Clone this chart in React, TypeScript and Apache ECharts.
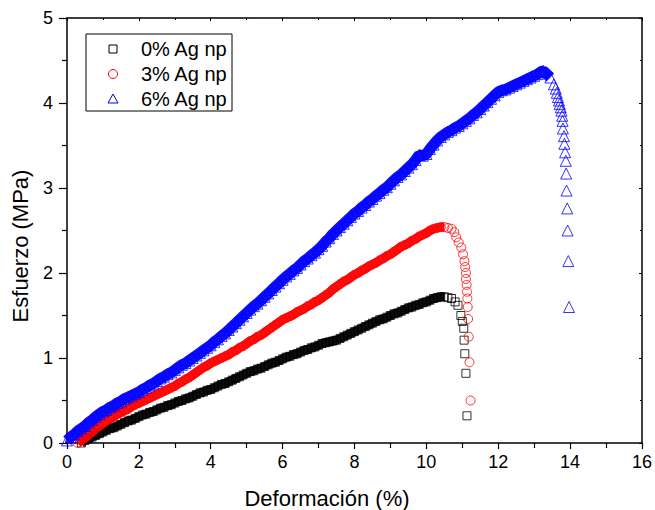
import React, { useEffect, useRef } from "react";
import * as echarts from "echarts";

const seriesNames = ["0% Ag np", "3% Ag np", "6% Ag np"];
const seriesColors = ["#000000", "#ff0000", "#0000ff"];

const xTicks = [0, 2, 4, 6, 8, 10, 12, 14, 16];
const yTicks = [0, 1, 2, 3, 4, 5];

// 0% Ag np  [deformación %, esfuerzo MPa]
const data0: [number, number][] = [
  [0.4, 0.0], [0.5, 0.03], [0.6, 0.05], [0.7, 0.07], [0.8, 0.09], [0.9, 0.11], [1.0, 0.13],
  [1.1, 0.15], [1.2, 0.17], [1.3, 0.18], [1.4, 0.2], [1.5, 0.22], [1.6, 0.24], [1.7, 0.26],
  [1.8, 0.27], [1.9, 0.29], [2.0, 0.31], [2.1, 0.33], [2.2, 0.34], [2.3, 0.36], [2.4, 0.37],
  [2.5, 0.39], [2.6, 0.41], [2.7, 0.42], [2.8, 0.44], [2.9, 0.45], [3.0, 0.47], [3.1, 0.49],
  [3.2, 0.5], [3.3, 0.52], [3.4, 0.53], [3.5, 0.55], [3.6, 0.57], [3.7, 0.59], [3.8, 0.6],
  [3.9, 0.62], [4.0, 0.63], [4.1, 0.65], [4.2, 0.67], [4.3, 0.69], [4.4, 0.7], [4.5, 0.72],
  [4.6, 0.74], [4.7, 0.76], [4.8, 0.78], [4.9, 0.8], [5.0, 0.82], [5.1, 0.84], [5.2, 0.85],
  [5.3, 0.87], [5.4, 0.88], [5.5, 0.9], [5.6, 0.92], [5.7, 0.94], [5.8, 0.95], [5.9, 0.97],
  [6.0, 0.99], [6.1, 1.01], [6.2, 1.02], [6.3, 1.04], [6.4, 1.05], [6.5, 1.07], [6.6, 1.09],
  [6.7, 1.1], [6.8, 1.12], [6.9, 1.13], [7.0, 1.15], [7.1, 1.17], [7.2, 1.18], [7.3, 1.19],
  [7.4, 1.2], [7.5, 1.21], [7.6, 1.23], [7.7, 1.25], [7.8, 1.27], [7.9, 1.29], [8.0, 1.31],
  [8.1, 1.33], [8.2, 1.35], [8.3, 1.37], [8.4, 1.39], [8.5, 1.41], [8.6, 1.43], [8.7, 1.45],
  [8.8, 1.46], [8.9, 1.48], [9.0, 1.5], [9.1, 1.52], [9.2, 1.53], [9.3, 1.55], [9.4, 1.57],
  [9.5, 1.59], [9.6, 1.6], [9.7, 1.62], [9.8, 1.63], [9.9, 1.65], [10.0, 1.66], [10.1, 1.68],
  [10.2, 1.7], [10.3, 1.71], [10.4, 1.72], [10.5, 1.72], [10.6, 1.71], [10.7, 1.7],
  [10.8, 1.66], [10.88, 1.62], [10.96, 1.5], [11.0, 1.43], [11.04, 1.35], [11.05, 1.21],
  [11.07, 1.05], [11.1, 0.82], [11.13, 0.32],
];

// 3% Ag np
const data3: [number, number][] = [
  [0.3, 0.0], [0.4, 0.03], [0.5, 0.06], [0.6, 0.1], [0.7, 0.13], [0.8, 0.17], [0.9, 0.2],
  [1.0, 0.23], [1.1, 0.26], [1.2, 0.29], [1.3, 0.31], [1.4, 0.34], [1.5, 0.36], [1.6, 0.38],
  [1.7, 0.4], [1.8, 0.43], [1.9, 0.45], [2.0, 0.47], [2.1, 0.49], [2.2, 0.51], [2.3, 0.53],
  [2.4, 0.55], [2.5, 0.57], [2.6, 0.59], [2.7, 0.61], [2.8, 0.63], [2.9, 0.65], [3.0, 0.67],
  [3.1, 0.7], [3.2, 0.72], [3.3, 0.75], [3.4, 0.77], [3.5, 0.8], [3.6, 0.83], [3.7, 0.86],
  [3.8, 0.89], [3.9, 0.91], [4.0, 0.94], [4.1, 0.96], [4.2, 0.98], [4.3, 1.0], [4.4, 1.02],
  [4.5, 1.04], [4.6, 1.07], [4.7, 1.09], [4.8, 1.12], [4.9, 1.14], [5.0, 1.17], [5.1, 1.2],
  [5.2, 1.22], [5.3, 1.25], [5.4, 1.27], [5.5, 1.3], [5.6, 1.33], [5.7, 1.36], [5.8, 1.39],
  [5.9, 1.42], [6.0, 1.45], [6.1, 1.47], [6.2, 1.49], [6.3, 1.51], [6.4, 1.54], [6.5, 1.56],
  [6.6, 1.58], [6.7, 1.61], [6.8, 1.63], [6.9, 1.66], [7.0, 1.68], [7.1, 1.71], [7.2, 1.74],
  [7.3, 1.77], [7.4, 1.81], [7.5, 1.84], [7.6, 1.87], [7.7, 1.9], [7.8, 1.92], [7.9, 1.95],
  [8.0, 1.98], [8.1, 2.0], [8.2, 2.03], [8.3, 2.05], [8.4, 2.08], [8.5, 2.1], [8.6, 2.12],
  [8.7, 2.15], [8.8, 2.17], [8.9, 2.2], [9.0, 2.22], [9.1, 2.25], [9.2, 2.28], [9.3, 2.31],
  [9.4, 2.33], [9.5, 2.35], [9.6, 2.38], [9.7, 2.4], [9.8, 2.43], [9.9, 2.45], [10.0, 2.47],
  [10.1, 2.5], [10.2, 2.52], [10.3, 2.53], [10.4, 2.54], [10.5, 2.54], [10.6, 2.53],
  [10.7, 2.52], [10.78, 2.48], [10.83, 2.42], [10.9, 2.36], [10.97, 2.3], [11.02, 2.22],
  [11.06, 2.14], [11.08, 2.07], [11.1, 2.0], [11.1, 1.93], [11.12, 1.86], [11.13, 1.78],
  [11.14, 1.7], [11.15, 1.6], [11.16, 1.46], [11.18, 1.25], [11.2, 0.95], [11.23, 0.5],
];

// 6% Ag np
const data6: [number, number][] = [
  [0.0, 0.03], [0.1, 0.07], [0.2, 0.1], [0.3, 0.14], [0.4, 0.17], [0.5, 0.2], [0.6, 0.24],
  [0.7, 0.27], [0.8, 0.31], [0.9, 0.34], [1.0, 0.37], [1.1, 0.39], [1.2, 0.42], [1.3, 0.44],
  [1.4, 0.47], [1.5, 0.49], [1.6, 0.52], [1.7, 0.54], [1.8, 0.56], [1.9, 0.58], [2.0, 0.6],
  [2.1, 0.63], [2.2, 0.65], [2.3, 0.68], [2.4, 0.7], [2.5, 0.73], [2.6, 0.76], [2.7, 0.78],
  [2.8, 0.81], [2.9, 0.83], [3.0, 0.86], [3.1, 0.89], [3.2, 0.92], [3.3, 0.94], [3.4, 0.97],
  [3.5, 1.0], [3.6, 1.03], [3.7, 1.06], [3.8, 1.09], [3.9, 1.12], [4.0, 1.15], [4.1, 1.19],
  [4.2, 1.22], [4.3, 1.26], [4.4, 1.29], [4.5, 1.33], [4.6, 1.37], [4.7, 1.41], [4.8, 1.45],
  [4.9, 1.49], [5.0, 1.53], [5.1, 1.57], [5.2, 1.61], [5.3, 1.64], [5.4, 1.68], [5.5, 1.72],
  [5.6, 1.76], [5.7, 1.8], [5.8, 1.84], [5.9, 1.88], [6.0, 1.92], [6.1, 1.96], [6.2, 1.99],
  [6.3, 2.03], [6.4, 2.06], [6.5, 2.1], [6.6, 2.14], [6.7, 2.17], [6.8, 2.21], [6.9, 2.24],
  [7.0, 2.28], [7.1, 2.32], [7.2, 2.37], [7.3, 2.41], [7.4, 2.46], [7.5, 2.5], [7.6, 2.54],
  [7.7, 2.58], [7.8, 2.62], [7.9, 2.66], [8.0, 2.7], [8.1, 2.73], [8.2, 2.77], [8.3, 2.8],
  [8.4, 2.84], [8.5, 2.87], [8.6, 2.91], [8.7, 2.94], [8.8, 2.98], [8.9, 3.01], [9.0, 3.05],
  [9.1, 3.09], [9.2, 3.13], [9.3, 3.16], [9.4, 3.2], [9.5, 3.24], [9.6, 3.28], [9.7, 3.33],
  [9.8, 3.39], [9.9, 3.38], [10.0, 3.4], [10.1, 3.46], [10.2, 3.51], [10.3, 3.56], [10.4, 3.6],
  [10.5, 3.63], [10.6, 3.66], [10.7, 3.68], [10.8, 3.71], [10.9, 3.73], [11.0, 3.76],
  [11.1, 3.79], [11.2, 3.82], [11.3, 3.86], [11.4, 3.89], [11.5, 3.93], [11.6, 3.97],
  [11.7, 4.01], [11.8, 4.05], [11.9, 4.09], [12.0, 4.13], [12.1, 4.15], [12.2, 4.16],
  [12.3, 4.18], [12.4, 4.2], [12.5, 4.22], [12.6, 4.24], [12.7, 4.26], [12.8, 4.28],
  [12.9, 4.3], [13.0, 4.32], [13.1, 4.34], [13.2, 4.37], [13.25, 4.38], [13.45, 4.3],
  [13.55, 4.22], [13.6, 4.17], [13.63, 4.12], [13.66, 4.07], [13.69, 4.03], [13.71, 3.99],
  [13.74, 3.95], [13.76, 3.91], [13.78, 3.85], [13.79, 3.79], [13.8, 3.7], [13.83, 3.61],
  [13.84, 3.52], [13.86, 3.42], [13.88, 3.32], [13.89, 3.17], [13.9, 2.97], [13.92, 2.76],
  [13.93, 2.5], [13.95, 2.14], [13.97, 1.6],
];

const FONT = "'Liberation Sans', Arial, sans-serif";

// the dense, overlapping measurement points form a solid band up to the peak
function risingPart(d: [number, number][]) {
  let iMax = 0;
  d.forEach((p, i) => {
    if (p[1] > d[iMax][1]) iMax = i;
  });
  return d.slice(0, iMax + 2);
}

const symbols = ["rect", "circle", "triangle"];
const symbolSizes = [8, 9, 11];
const bandWidths = [9, 9, 11];

export default function App() {
  const ref = useRef<HTMLDivElement>(null);
  useEffect(() => {
    if (!ref.current) return;
    const chart = echarts.init(ref.current, undefined, { renderer: "svg" });
    const axisLine = { show: true, onZero: false, lineStyle: { color: "#000", width: 1.5 } };
    const baseX = {
      type: "value" as const,
      min: xTicks[0],
      max: xTicks[xTicks.length - 1],
      interval: 2,
      splitLine: { show: false },
      minorSplitLine: { show: false },
      axisLine,
    };
    const baseY = {
      type: "value" as const,
      min: yTicks[0],
      max: yTicks[yTicks.length - 1],
      interval: 1,
      splitLine: { show: false },
      minorSplitLine: { show: false },
      axisLine,
    };
    const datasets = [data0, data3, data6];
    const bands = datasets.map((d, i) => ({
      name: seriesNames[i] + " band",
      type: "line",
      xAxisIndex: 0,
      yAxisIndex: 0,
      showSymbol: false,
      symbol: "none",
      smooth: false,
      z: 1 + i,
      lineStyle: { color: seriesColors[i], width: bandWidths[i], opacity: 0.95 },
      data: risingPart(d),
      silent: true,
    }));
    const points = datasets.map((d, i) => ({
      name: seriesNames[i],
      type: "scatter",
      xAxisIndex: 0,
      yAxisIndex: 0,
      symbol: symbols[i],
      symbolSize: symbolSizes[i],
      z: 1 + i,
      itemStyle: { color: "rgba(0,0,0,0)", borderColor: seriesColors[i], borderWidth: 1 },
      data: d,
    }));
    const option: any = {
      animation: false,
      backgroundColor: "#fff",
      grid: { left: 67, right: 11, top: 18, bottom: 67, containLabel: false },
      xAxis: [
        {
          ...baseX,
          position: "bottom",
          axisTick: { show: true, inside: false, length: 6, lineStyle: { color: "#000", width: 1.2 } },
          minorTick: { show: true, splitNumber: 2, length: 5, lineStyle: { color: "#000", width: 1.2 } },
          axisLabel: { show: true, color: "#000", fontSize: 18, fontFamily: FONT, margin: 10 },
        },
        {
          ...baseX,
          position: "top",
          axisTick: { show: true, inside: true, length: 3, lineStyle: { color: "#000", width: 1 } },
          minorTick: { show: true, splitNumber: 2, length: 2, lineStyle: { color: "#000", width: 1 } },
          axisLabel: { show: false },
        },
      ],
      yAxis: [
        {
          ...baseY,
          position: "left",
          axisTick: { show: true, inside: false, length: 8, lineStyle: { color: "#000", width: 1.2 } },
          minorTick: { show: true, splitNumber: 2, length: 5, lineStyle: { color: "#000", width: 1.2 } },
          axisLabel: { show: true, color: "#000", fontSize: 18, fontFamily: FONT, margin: 14 },
        },
        {
          ...baseY,
          position: "right",
          axisTick: { show: true, inside: true, length: 3, lineStyle: { color: "#000", width: 1 } },
          minorTick: { show: true, splitNumber: 2, length: 2, lineStyle: { color: "#000", width: 1 } },
          axisLabel: { show: false },
        },
      ],
      series: [bands[0], points[0], bands[1], points[1], bands[2], points[2]],
      graphic: [
        {
          type: "text",
          x: 20,
          y: 246,
          rotation: Math.PI / 2,
          style: {
            text: "Esfuerzo (MPa)",
            fill: "#000",
            font: `22px ${FONT}`,
            textAlign: "center",
            textVerticalAlign: "middle",
          },
        },
        {
          type: "text",
          x: 327,
          y: 498,
          style: {
            text: "Deformación (%)",
            fill: "#000",
            font: `22px ${FONT}`,
            textAlign: "center",
            textVerticalAlign: "middle",
          },
        },
        {
          type: "rect",
          shape: { x: 86, y: 34, width: 146, height: 77 },
          style: { fill: "#fff", stroke: "#000", lineWidth: 1 },
          z: 10,
        },
        {
          type: "rect",
          shape: { x: 109, y: 45, width: 8, height: 8 },
          style: { fill: "none", stroke: seriesColors[0], lineWidth: 1 },
          z: 11,
        },
        {
          type: "circle",
          shape: { cx: 113, cy: 74, r: 4.5 },
          style: { fill: "none", stroke: seriesColors[1], lineWidth: 1 },
          z: 11,
        },
        {
          type: "polygon",
          shape: { points: [[108, 103], [118, 103], [113, 94]] },
          style: { fill: "none", stroke: seriesColors[2], lineWidth: 1 },
          z: 11,
        },
        ...seriesNames.map((n, i) => ({
          type: "text",
          x: 141,
          y: 49 + i * 25,
          z: 11,
          style: {
            text: n,
            fill: "#000",
            font: `20px ${FONT}`,
            textAlign: "left",
            textVerticalAlign: "middle",
          },
        })),
      ],
    };
    chart.setOption(option);
    return () => chart.dispose();
  }, []);
  return (
    <div
      ref={ref}
      style={{ position: "absolute", left: 0, top: 0, width: 655, height: 510 }}
    />
  );
}
